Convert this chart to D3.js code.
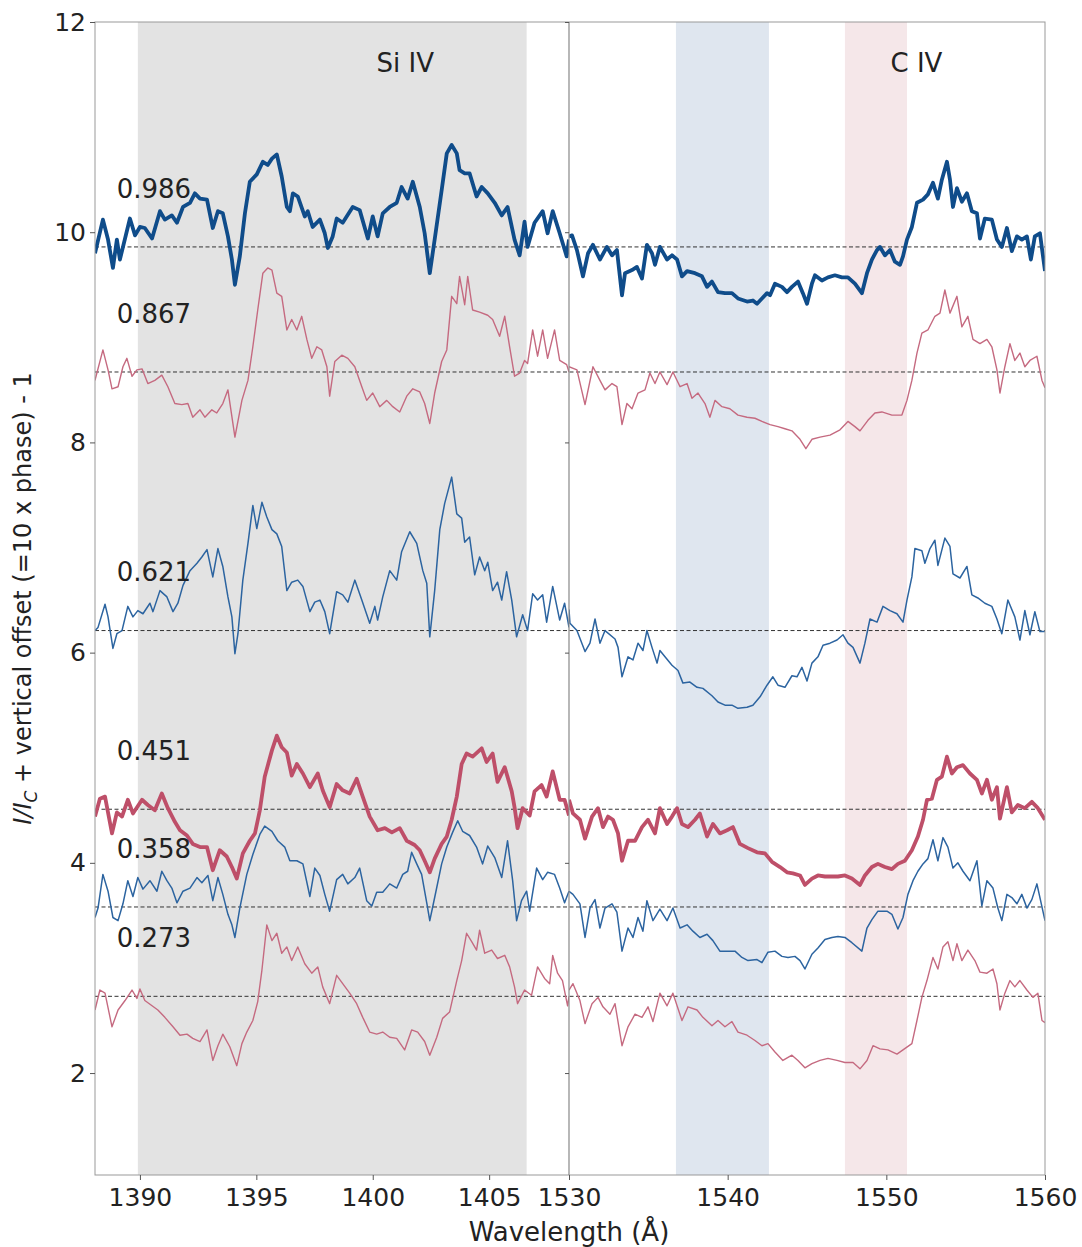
<!DOCTYPE html>
<html>
<head>
<meta charset="utf-8">
<title></title>
<script src="https://d3js.org/d3.v7.min.js"></script>
<style>
    body { margin: 0; background: #fff; }
    text { font-family: "DejaVu Sans", sans-serif; }
</style>
</head>
<body>
<div id="my_dataviz"></div>
<script>
// phases (vertical offset = 10 x phase)
var phases = [0.986, 0.867, 0.621, 0.451, 0.358, 0.273];

// Si IV region spectra: [wavelength, I/Ic]
var si986 = [[1388.07,0.94],[1388.41,1.26],[1388.63,1.07],[1388.84,0.80],[1389.01,1.07],[1389.14,0.88],[1389.57,1.27],[1389.79,1.11],[1390.00,1.19],[1390.21,1.18],[1390.52,1.08],[1390.86,1.34],[1391.07,1.26],[1391.37,1.30],[1391.59,1.23],[1391.85,1.38],[1392.15,1.42],[1392.36,1.51],[1392.58,1.46],[1392.88,1.45],[1393.13,1.18],[1393.35,1.34],[1393.56,1.32],[1393.78,1.10],[1393.95,0.88],[1394.08,0.64],[1394.29,0.91],[1394.51,1.32],[1394.72,1.62],[1395.02,1.69],[1395.28,1.81],[1395.49,1.78],[1395.67,1.84],[1395.88,1.88],[1396.09,1.67],[1396.31,1.38],[1396.44,1.34],[1396.57,1.51],[1396.78,1.48],[1397.08,1.29],[1397.21,1.34],[1397.42,1.19],[1397.73,1.26],[1397.94,1.13],[1398.07,0.99],[1398.28,1.10],[1398.45,1.27],[1398.71,1.23],[1399.14,1.38],[1399.44,1.35],[1399.79,1.08],[1400.00,1.29],[1400.21,1.10],[1400.43,1.32],[1400.73,1.38],[1401.03,1.42],[1401.24,1.57],[1401.50,1.46],[1401.72,1.62],[1402.02,1.38],[1402.23,1.13],[1402.45,0.75],[1402.66,1.07],[1402.96,1.54],[1403.18,1.89],[1403.39,1.97],[1403.61,1.89],[1403.73,1.73],[1403.95,1.70],[1404.16,1.70],[1404.46,1.48],[1404.68,1.57],[1404.94,1.51],[1405.24,1.42],[1405.54,1.30],[1405.79,1.38],[1406.09,1.07],[1406.31,0.92],[1406.52,1.24],[1406.65,1.00],[1406.95,1.23],[1407.30,1.34],[1407.51,1.13],[1407.73,1.34],[1408.03,1.13],[1408.33,0.91],[1408.43,1.07]];
var si867 = [[1388.07,0.92],[1388.41,1.21],[1388.63,1.02],[1388.80,0.84],[1389.06,0.86],[1389.27,1.05],[1389.44,1.13],[1389.66,0.96],[1389.87,1.02],[1390.09,1.03],[1390.34,0.89],[1390.64,0.92],[1390.94,0.97],[1391.20,0.86],[1391.50,0.70],[1391.80,0.69],[1392.06,0.70],[1392.27,0.57],[1392.58,0.64],[1392.79,0.57],[1393.09,0.64],[1393.30,0.61],[1393.56,0.70],[1393.78,0.83],[1394.08,0.38],[1394.38,0.73],[1394.64,0.92],[1394.85,1.24],[1395.06,1.59],[1395.28,1.94],[1395.49,1.99],[1395.67,1.97],[1395.88,1.75],[1396.09,1.72],[1396.31,1.40],[1396.52,1.50],[1396.74,1.40],[1396.95,1.53],[1397.17,1.31],[1397.38,1.13],[1397.60,1.24],[1397.81,1.21],[1398.03,1.05],[1398.15,0.77],[1398.37,1.10],[1398.67,1.16],[1398.93,1.13],[1399.23,1.05],[1399.53,0.86],[1399.74,0.73],[1400.00,0.80],[1400.30,0.67],[1400.60,0.73],[1400.86,0.67],[1401.16,0.62],[1401.46,0.77],[1401.72,0.84],[1402.02,0.81],[1402.23,0.70],[1402.45,0.51],[1402.66,0.80],[1402.96,1.10],[1403.18,1.21],[1403.39,1.72],[1403.61,1.65],[1403.73,1.91],[1403.95,1.64],[1404.08,1.91],[1404.29,1.59],[1404.59,1.57],[1404.94,1.54],[1405.15,1.50],[1405.45,1.34],[1405.67,1.53],[1405.88,1.24],[1406.09,0.96],[1406.31,0.99],[1406.52,1.11],[1406.65,1.08],[1406.87,1.40],[1407.08,1.15],[1407.30,1.40],[1407.51,1.13],[1407.81,1.40],[1408.03,1.11],[1408.33,1.07],[1408.43,1.00]];
var si621 = [[1388.07,1.00],[1388.20,1.03],[1388.50,1.25],[1388.63,1.13],[1388.84,0.83],[1389.01,0.97],[1389.23,1.00],[1389.48,1.23],[1389.70,1.13],[1389.91,1.19],[1390.13,1.16],[1390.43,1.26],[1390.56,1.18],[1390.86,1.38],[1391.16,1.32],[1391.42,1.18],[1391.63,1.26],[1391.85,1.43],[1392.15,1.57],[1392.45,1.64],[1392.66,1.70],[1392.88,1.77],[1393.13,1.51],[1393.35,1.78],[1393.56,1.61],[1393.78,1.32],[1393.95,1.13],[1394.08,0.78],[1394.21,0.97],[1394.42,1.48],[1394.64,1.83],[1394.85,2.19],[1395.02,1.97],[1395.24,2.22],[1395.45,2.08],[1395.67,1.96],[1395.88,1.92],[1396.09,1.80],[1396.31,1.38],[1396.52,1.46],[1396.78,1.48],[1397.00,1.42],[1397.30,1.18],[1397.51,1.27],[1397.73,1.29],[1397.94,1.18],[1398.15,0.97],[1398.45,1.37],[1398.71,1.34],[1398.93,1.27],[1399.23,1.48],[1399.53,1.29],[1399.87,1.07],[1400.09,1.23],[1400.21,1.10],[1400.43,1.32],[1400.73,1.57],[1401.03,1.48],[1401.24,1.75],[1401.59,1.94],[1401.89,1.83],[1402.15,1.57],[1402.32,1.45],[1402.45,0.94],[1402.66,1.38],[1402.88,1.96],[1403.09,2.21],[1403.39,2.46],[1403.61,2.11],[1403.82,2.07],[1403.95,1.84],[1404.16,1.89],[1404.38,1.53],[1404.59,1.70],[1404.81,1.57],[1404.94,1.65],[1405.15,1.38],[1405.36,1.46],[1405.54,1.29],[1405.75,1.56],[1405.97,1.29],[1406.18,0.94],[1406.44,1.15],[1406.65,1.00],[1406.87,1.35],[1407.08,1.29],[1407.30,1.34],[1407.47,1.08],[1407.73,1.42],[1408.03,1.10],[1408.24,1.26],[1408.43,1.03]];
var si451 = [[1388.07,0.93],[1388.28,1.10],[1388.50,1.12],[1388.80,0.77],[1389.01,0.97],[1389.23,0.93],[1389.48,1.09],[1389.70,0.96],[1390.09,1.09],[1390.34,1.04],[1390.64,0.99],[1390.94,1.15],[1391.20,1.01],[1391.50,0.88],[1391.72,0.80],[1392.02,0.75],[1392.27,0.67],[1392.58,0.64],[1392.88,0.64],[1393.13,0.42],[1393.43,0.61],[1393.73,0.55],[1393.95,0.45],[1394.16,0.34],[1394.42,0.58],[1394.72,0.70],[1394.94,0.77],[1395.15,0.99],[1395.36,1.31],[1395.67,1.56],[1395.88,1.70],[1396.09,1.59],[1396.31,1.54],[1396.52,1.32],[1396.74,1.43],[1397.00,1.34],[1397.30,1.21],[1397.64,1.34],[1397.85,1.18],[1398.15,1.02],[1398.45,1.24],[1398.71,1.18],[1399.01,1.15],[1399.31,1.29],[1399.57,1.12],[1399.87,0.93],[1400.21,0.80],[1400.52,0.82],[1400.82,0.78],[1401.16,0.82],[1401.46,0.70],[1401.80,0.66],[1402.02,0.61],[1402.23,0.51],[1402.45,0.40],[1402.66,0.53],[1402.96,0.67],[1403.18,0.74],[1403.39,0.90],[1403.61,1.12],[1403.82,1.43],[1404.03,1.53],[1404.29,1.50],[1404.68,1.58],[1404.89,1.45],[1405.15,1.53],[1405.36,1.26],[1405.67,1.40],[1405.97,1.17],[1406.09,1.02],[1406.22,0.82],[1406.44,1.01],[1406.74,0.94],[1406.95,1.17],[1407.25,1.23],[1407.47,1.12],[1407.73,1.36],[1408.03,1.09],[1408.24,1.09],[1408.43,0.94]];
var si358 = [[1388.07,0.90],[1388.20,0.99],[1388.41,1.31],[1388.63,1.15],[1388.84,0.90],[1389.06,0.87],[1389.27,1.03],[1389.48,1.25],[1389.70,1.10],[1389.91,1.28],[1390.13,1.17],[1390.43,1.25],[1390.73,1.15],[1390.94,1.34],[1391.16,1.25],[1391.37,1.18],[1391.59,1.04],[1391.85,1.15],[1392.15,1.18],[1392.45,1.28],[1392.66,1.23],[1392.92,1.30],[1393.13,1.06],[1393.35,1.28],[1393.56,1.12],[1393.78,0.93],[1393.95,0.83],[1394.08,0.71],[1394.29,0.99],[1394.59,1.31],[1394.85,1.50],[1395.15,1.69],[1395.36,1.77],[1395.67,1.72],[1395.92,1.63],[1396.22,1.57],[1396.44,1.44],[1396.74,1.44],[1397.00,1.41],[1397.30,1.10],[1397.51,1.37],[1397.73,1.30],[1397.94,1.12],[1398.15,0.96],[1398.45,1.26],[1398.71,1.31],[1398.93,1.22],[1399.23,1.28],[1399.44,1.37],[1399.74,1.06],[1399.96,1.01],[1400.17,1.14],[1400.43,1.14],[1400.73,1.22],[1401.03,1.18],[1401.29,1.31],[1401.50,1.34],[1401.67,1.52],[1401.89,1.41],[1402.10,1.31],[1402.32,1.04],[1402.45,0.87],[1402.66,1.09],[1402.96,1.41],[1403.18,1.57],[1403.43,1.71],[1403.65,1.82],[1403.86,1.72],[1404.16,1.68],[1404.46,1.57],[1404.72,1.41],[1404.94,1.58],[1405.24,1.47],[1405.54,1.28],[1405.79,1.63],[1406.01,1.25],[1406.18,0.87],[1406.39,1.06],[1406.61,1.15],[1406.74,0.96],[1407.04,1.37],[1407.30,1.26],[1407.51,1.33],[1407.81,1.31],[1408.03,1.18],[1408.24,1.04],[1408.43,1.15]];
var si273 = [[1388.07,0.87],[1388.28,1.06],[1388.50,1.03],[1388.80,0.71],[1389.06,0.87],[1389.36,0.96],[1389.66,1.06],[1389.87,0.98],[1390.00,1.07],[1390.21,0.96],[1390.52,0.91],[1390.77,0.87],[1391.07,0.80],[1391.42,0.71],[1391.72,0.63],[1392.02,0.64],[1392.27,0.60],[1392.58,0.57],[1392.88,0.68],[1393.13,0.39],[1393.35,0.53],[1393.56,0.64],[1393.86,0.52],[1394.16,0.34],[1394.38,0.55],[1394.59,0.66],[1394.85,0.77],[1395.06,0.95],[1395.24,1.25],[1395.45,1.68],[1395.67,1.53],[1395.88,1.60],[1396.09,1.41],[1396.31,1.47],[1396.52,1.34],[1396.78,1.47],[1397.08,1.31],[1397.38,1.22],[1397.64,1.28],[1397.85,1.09],[1398.15,0.93],[1398.45,1.20],[1398.71,1.12],[1399.01,1.03],[1399.31,0.93],[1399.57,0.80],[1399.87,0.66],[1400.17,0.64],[1400.43,0.66],[1400.73,0.61],[1401.03,0.60],[1401.37,0.49],[1401.67,0.68],[1401.93,0.66],[1402.23,0.57],[1402.45,0.44],[1402.75,0.61],[1403.00,0.79],[1403.30,0.85],[1403.61,1.15],[1403.82,1.34],[1404.03,1.60],[1404.25,1.52],[1404.46,1.44],[1404.59,1.63],[1404.81,1.41],[1405.11,1.44],[1405.36,1.36],[1405.67,1.39],[1405.88,1.28],[1406.09,1.09],[1406.22,0.93],[1406.52,1.06],[1406.82,1.01],[1407.08,1.28],[1407.38,1.17],[1407.60,1.12],[1407.73,1.39],[1407.94,1.22],[1408.15,1.15],[1408.37,0.91],[1408.43,1.00]];

// C IV region spectra: [wavelength, I/Ic]
var c986 = [[1530.00,1.10],[1530.19,1.11],[1530.50,0.97],[1530.88,0.72],[1531.20,0.94],[1531.51,1.02],[1531.95,0.88],[1532.39,1.00],[1532.71,0.92],[1533.02,0.97],[1533.34,0.54],[1533.53,0.75],[1533.97,0.78],[1534.28,0.81],[1534.60,0.70],[1534.91,1.02],[1535.23,0.94],[1535.42,0.83],[1535.73,1.00],[1536.18,0.88],[1536.49,0.92],[1536.81,0.88],[1537.12,0.72],[1537.44,0.77],[1537.94,0.75],[1538.38,0.72],[1538.70,0.62],[1539.01,0.67],[1539.39,0.57],[1539.83,0.56],[1540.27,0.56],[1540.65,0.51],[1541.22,0.48],[1541.59,0.49],[1541.85,0.46],[1542.16,0.51],[1542.48,0.56],[1542.67,0.54],[1542.98,0.65],[1543.42,0.62],[1543.74,0.57],[1544.05,0.62],[1544.43,0.67],[1544.74,0.56],[1545.00,0.46],[1545.31,0.65],[1545.50,0.73],[1545.94,0.68],[1546.32,0.71],[1546.76,0.73],[1547.20,0.71],[1547.58,0.71],[1548.02,0.65],[1548.46,0.56],[1548.78,0.75],[1549.09,0.88],[1549.41,0.97],[1549.60,1.00],[1549.91,0.92],[1550.23,0.97],[1550.54,0.86],[1550.86,0.83],[1551.05,0.91],[1551.30,1.07],[1551.61,1.19],[1551.93,1.42],[1552.31,1.45],[1552.62,1.50],[1552.94,1.61],[1553.25,1.46],[1553.50,1.64],[1553.82,1.81],[1554.01,1.64],[1554.20,1.38],[1554.45,1.56],[1554.76,1.43],[1555.08,1.51],[1555.39,1.34],[1555.71,1.32],[1555.90,1.08],[1556.21,1.27],[1556.65,1.26],[1556.97,1.07],[1557.28,1.00],[1557.60,1.18],[1557.91,0.96],[1558.23,1.10],[1558.54,1.07],[1558.86,1.10],[1559.11,0.88],[1559.36,1.10],[1559.68,1.13],[1560.00,0.77]];
var c867 = [[1530.00,1.05],[1530.50,1.02],[1531.01,0.69],[1531.51,1.05],[1531.95,0.92],[1532.27,0.83],[1532.71,0.89],[1533.02,0.86],[1533.34,0.50],[1533.65,0.70],[1533.97,0.65],[1534.35,0.80],[1534.79,0.83],[1535.10,0.99],[1535.42,0.89],[1535.73,1.00],[1536.18,0.88],[1536.55,1.00],[1537.00,0.86],[1537.44,0.89],[1537.75,0.75],[1538.13,0.80],[1538.57,0.70],[1538.88,0.57],[1539.20,0.73],[1539.64,0.67],[1540.14,0.65],[1540.65,0.59],[1541.22,0.57],[1541.72,0.56],[1542.16,0.53],[1542.67,0.50],[1543.17,0.48],[1543.61,0.46],[1544.05,0.44],[1544.56,0.36],[1544.93,0.27],[1545.31,0.36],[1545.82,0.38],[1546.45,0.40],[1547.08,0.45],[1547.58,0.53],[1548.02,0.48],[1548.34,0.44],[1548.84,0.54],[1549.28,0.61],[1549.72,0.62],[1550.35,0.59],[1550.98,0.59],[1551.30,0.73],[1551.61,0.92],[1551.93,1.18],[1552.24,1.37],[1552.62,1.40],[1553.06,1.53],[1553.38,1.56],[1553.69,1.78],[1554.01,1.56],[1554.45,1.72],[1554.76,1.43],[1555.14,1.53],[1555.46,1.31],[1555.90,1.27],[1556.34,1.31],[1556.65,1.24],[1556.97,1.02],[1557.16,0.80],[1557.47,1.05],[1557.79,1.27],[1558.10,1.11],[1558.42,1.18],[1558.73,1.05],[1559.05,1.11],[1559.49,1.15],[1559.81,0.92],[1560.00,0.85]];
var c621 = [[1530.00,1.20],[1530.06,1.07],[1530.50,1.00],[1531.01,0.80],[1531.32,0.88],[1531.64,1.11],[1531.95,0.88],[1532.27,1.00],[1532.90,0.92],[1533.09,0.84],[1533.34,0.56],[1533.72,0.75],[1534.03,0.72],[1534.35,0.88],[1534.66,0.81],[1534.91,1.00],[1535.23,0.84],[1535.55,0.69],[1535.73,0.81],[1536.05,0.75],[1536.49,0.67],[1536.87,0.62],[1537.18,0.50],[1537.62,0.51],[1538.07,0.46],[1538.44,0.45],[1539.01,0.38],[1539.39,0.32],[1539.83,0.29],[1540.27,0.29],[1540.65,0.26],[1541.22,0.27],[1541.59,0.29],[1542.04,0.37],[1542.48,0.48],[1542.85,0.56],[1543.17,0.48],[1543.61,0.46],[1544.05,0.57],[1544.37,0.56],[1544.68,0.65],[1545.00,0.52],[1545.31,0.69],[1545.69,0.75],[1546.01,0.86],[1546.45,0.88],[1546.89,0.91],[1547.27,0.96],[1547.58,0.88],[1547.90,0.84],[1548.34,0.69],[1548.65,0.88],[1548.97,1.11],[1549.41,1.08],[1549.79,1.23],[1550.23,1.19],[1550.67,1.16],[1551.05,1.08],[1551.30,1.29],[1551.61,1.51],[1551.80,1.78],[1552.24,1.76],[1552.43,1.64],[1552.75,1.78],[1553.06,1.86],[1553.25,1.62],[1553.69,1.88],[1554.01,1.80],[1554.20,1.54],[1554.64,1.50],[1555.08,1.61],[1555.39,1.34],[1555.77,1.31],[1556.21,1.26],[1556.65,1.23],[1556.97,1.11],[1557.28,0.97],[1557.66,1.29],[1558.10,1.13],[1558.42,0.91],[1558.73,1.19],[1559.05,0.96],[1559.36,1.18],[1559.68,0.99],[1560.00,0.99]];
var c451 = [[1530.00,1.09],[1530.25,0.96],[1530.69,0.90],[1531.01,0.72],[1531.45,0.93],[1531.83,1.01],[1532.14,0.83],[1532.46,0.93],[1532.77,0.90],[1533.09,0.77],[1533.34,0.51],[1533.72,0.70],[1534.16,0.70],[1534.60,0.83],[1534.98,0.90],[1535.42,0.77],[1535.73,1.01],[1536.18,0.86],[1536.49,0.93],[1536.81,1.01],[1537.12,0.86],[1537.50,0.83],[1537.94,0.90],[1538.25,0.96],[1538.70,0.74],[1539.07,0.86],[1539.51,0.77],[1539.96,0.80],[1540.33,0.83],[1540.77,0.67],[1541.28,0.63],[1541.85,0.59],[1542.35,0.58],[1542.79,0.50],[1543.30,0.45],[1543.74,0.40],[1544.11,0.39],[1544.56,0.37],[1544.87,0.28],[1545.31,0.34],[1545.69,0.37],[1546.13,0.36],[1546.57,0.36],[1546.95,0.36],[1547.39,0.37],[1547.83,0.34],[1548.34,0.28],[1548.65,0.37],[1549.09,0.45],[1549.47,0.48],[1549.91,0.45],[1550.35,0.43],[1550.73,0.48],[1551.17,0.51],[1551.61,0.61],[1551.99,0.74],[1552.31,0.90],[1552.56,1.09],[1552.87,1.10],[1553.19,1.28],[1553.50,1.31],[1553.82,1.50],[1554.13,1.34],[1554.45,1.40],[1554.83,1.42],[1555.27,1.34],[1555.71,1.28],[1556.02,1.15],[1556.34,1.28],[1556.65,1.09],[1556.97,1.21],[1557.16,0.91],[1557.60,1.21],[1557.91,0.97],[1558.29,1.04],[1558.73,1.01],[1559.17,1.07],[1559.55,1.01],[1560.00,0.90]];
var c358 = [[1530.00,1.15],[1530.25,1.12],[1530.69,1.03],[1531.01,0.71],[1531.32,0.99],[1531.64,1.07],[1531.95,0.80],[1532.27,0.99],[1532.71,1.03],[1533.02,0.95],[1533.34,0.58],[1533.72,0.80],[1534.03,0.71],[1534.35,0.90],[1534.66,0.77],[1534.91,1.06],[1535.29,0.87],[1535.73,0.98],[1536.18,0.87],[1536.55,0.99],[1537.00,0.80],[1537.44,0.83],[1537.81,0.77],[1538.25,0.71],[1538.70,0.74],[1539.07,0.68],[1539.51,0.58],[1540.02,0.58],[1540.46,0.58],[1540.90,0.52],[1541.28,0.49],[1541.85,0.50],[1542.16,0.47],[1542.54,0.57],[1542.98,0.58],[1543.42,0.53],[1543.80,0.52],[1544.24,0.53],[1544.56,0.49],[1544.87,0.41],[1545.31,0.55],[1545.69,0.61],[1546.13,0.69],[1546.57,0.71],[1546.95,0.72],[1547.39,0.71],[1547.83,0.66],[1548.46,0.58],[1548.78,0.80],[1549.09,0.88],[1549.47,0.96],[1550.04,0.96],[1550.35,0.93],[1550.73,0.79],[1551.05,0.90],[1551.36,1.12],[1551.68,1.25],[1551.99,1.34],[1552.31,1.41],[1552.62,1.46],[1552.94,1.64],[1553.25,1.44],[1553.57,1.66],[1553.88,1.57],[1554.20,1.37],[1554.51,1.42],[1554.83,1.34],[1555.27,1.25],[1555.71,1.44],[1556.02,1.01],[1556.34,1.25],[1556.72,1.18],[1557.03,0.99],[1557.28,0.87],[1557.60,1.12],[1557.91,1.09],[1558.23,1.03],[1558.54,1.12],[1558.86,0.99],[1559.17,1.07],[1559.49,1.22],[1560.00,0.87]];
var c273 = [[1530.00,1.06],[1530.25,1.12],[1530.69,0.96],[1531.01,0.74],[1531.45,0.93],[1531.83,0.99],[1532.14,0.90],[1532.58,0.83],[1532.90,0.93],[1533.34,0.53],[1533.72,0.71],[1534.16,0.83],[1534.60,0.80],[1534.98,0.90],[1535.29,0.76],[1535.73,1.03],[1536.18,0.91],[1536.55,1.03],[1537.12,0.77],[1537.50,0.90],[1538.07,0.87],[1538.44,0.80],[1539.01,0.72],[1539.39,0.77],[1539.83,0.71],[1540.27,0.76],[1540.65,0.66],[1541.22,0.63],[1541.72,0.58],[1542.16,0.53],[1542.54,0.55],[1542.98,0.47],[1543.48,0.39],[1544.05,0.44],[1544.43,0.39],[1544.87,0.32],[1545.31,0.36],[1545.82,0.39],[1546.32,0.41],[1546.89,0.39],[1547.39,0.37],[1547.90,0.37],[1548.34,0.31],[1548.78,0.39],[1549.16,0.53],[1549.60,0.50],[1550.10,0.49],[1550.67,0.45],[1551.05,0.49],[1551.61,0.55],[1551.93,0.77],[1552.24,0.99],[1552.56,1.15],[1552.94,1.37],[1553.25,1.26],[1553.57,1.47],[1553.88,1.52],[1554.20,1.34],[1554.45,1.50],[1554.76,1.34],[1555.14,1.44],[1555.58,1.34],[1555.90,1.23],[1556.34,1.22],[1556.72,1.26],[1556.97,1.12],[1557.16,0.87],[1557.47,1.03],[1557.79,1.15],[1558.10,1.09],[1558.42,1.15],[1558.86,1.06],[1559.24,0.99],[1559.55,1.03],[1559.81,0.77],[1560.00,0.75]];

// shaded wavelength bands
var siBand = [1389.91, 1406.61];
var cBands = [[1536.74, 1542.60, "#dfe6ef"], [1547.39, 1551.30, "#f5e7e9"]];

// tick labels
var siTicks = [1390, 1395, 1400, 1405];
var cTicks = [1530, 1540, 1550, 1560];
var yTicks = [2, 4, 6, 8, 10, 12];

var siSpectra = [si986, si867, si621, si451, si358, si273];
var cSpectra = [c986, c867, c621, c451, c358, c273];

// line styles by phase
var lineColor = ["#0f4c8a", "#c56a80", "#2c64a0", "#be4f69", "#2c64a0", "#c56a80"];
var lineWidth = [3.8, 1.4, 1.5, 3.8, 1.5, 1.4];

// set the dimensions and margins of the graph
var margin = { top: 22, right: 37, bottom: 72, left: 95 };
var width = 1082 - margin.left - margin.right;
var height = 1247 - margin.top - margin.bottom;
var splitX = 474;

var svg = d3.select("#my_dataviz")
    .append("svg")
    .attr("width", 1082)
    .attr("height", 1247)
    .style("background", "#fff")
    .append("g")
    .attr("transform", "translate(" + margin.left + "," + margin.top + ")");

// scales: broken x axis, two panels
var xSi = d3.scaleLinear().domain([1388.07, 1408.43]).range([0, splitX]);
var xC = d3.scaleLinear().domain([1530, 1560]).range([splitX, width]);
var y = d3.scaleLinear().domain([1.03, 12]).range([height, 0]);

// clip paths
var defs = svg.append("defs");
defs.append("clipPath").attr("id", "clipSi")
    .append("rect").attr("x", 0).attr("y", 0).attr("width", splitX).attr("height", height);
defs.append("clipPath").attr("id", "clipC")
    .append("rect").attr("x", splitX).attr("y", 0).attr("width", width - splitX).attr("height", height);

// shaded bands
svg.append("rect")
    .attr("x", xSi(siBand[0]))
    .attr("y", 0)
    .attr("width", xSi(siBand[1]) - xSi(siBand[0]))
    .attr("height", height)
    .attr("fill", "#e3e3e3");

svg.selectAll(".cband")
    .data(cBands)
    .enter()
    .append("rect")
    .attr("x", function(d) { return xC(d[0]); })
    .attr("y", 0)
    .attr("width", function(d) { return xC(d[1]) - xC(d[0]); })
    .attr("height", height)
    .attr("fill", function(d) { return d[2]; });

// dashed continuum level for each phase
svg.selectAll(".base")
    .data(phases)
    .enter()
    .append("line")
    .attr("x1", 0)
    .attr("x2", width)
    .attr("y1", function(d) { return y(10 * d); })
    .attr("y2", function(d) { return y(10 * d); })
    .attr("stroke", "#333")
    .attr("stroke-width", 1)
    .attr("stroke-dasharray", "4,2.5");

// spectra
function drawPanel(spectra, xs, clip) {
    var g = svg.append("g").attr("clip-path", "url(#" + clip + ")");
    spectra.forEach(function(data, i) {
        var off = 10 * phases[i] - 1;
        var line = d3.line()
            .x(function(d) { return xs(d[0]); })
            .y(function(d) { return y(d[1] + off); });
        g.append("path")
            .datum(data)
            .attr("fill", "none")
            .attr("stroke", lineColor[i])
            .attr("stroke-width", lineWidth[i])
            .attr("stroke-linejoin", "round")
            .attr("d", line);
    });
}
drawPanel(siSpectra, xSi, "clipSi");
drawPanel(cSpectra, xC, "clipC");

// phase labels
svg.selectAll(".plabel")
    .data(phases)
    .enter()
    .append("text")
    .attr("x", xSi(1389.0))
    .attr("y", function(d) { return y(10 * d + 0.54); })
    .attr("dominant-baseline", "middle")
    .attr("font-size", 26)
    .attr("fill", "#222")
    .text(function(d) { return d.toFixed(3); });

// ion labels
svg.append("text")
    .attr("x", xSi(1401.4)).attr("y", y(11.6))
    .attr("text-anchor", "middle").attr("dominant-baseline", "middle")
    .attr("font-size", 26).attr("fill", "#222")
    .text("Si IV");
svg.append("text")
    .attr("x", xC(1551.9)).attr("y", y(11.6))
    .attr("text-anchor", "middle").attr("dominant-baseline", "middle")
    .attr("font-size", 26).attr("fill", "#222")
    .text("C IV");

// frame and panel split
svg.append("rect")
    .attr("x", 0).attr("y", 0).attr("width", width).attr("height", height)
    .attr("fill", "none").attr("stroke", "#999").attr("stroke-width", 1);
svg.append("line")
    .attr("x1", splitX).attr("x2", splitX).attr("y1", 0).attr("y2", height)
    .attr("stroke", "#888").attr("stroke-width", 1.2);

// axes
function styleAxis(g) {
    g.select(".domain").remove();
    g.selectAll(".tick line").attr("stroke", "#555");
    g.selectAll(".tick text").attr("font-size", 25).attr("fill", "#222")
        .attr("font-family", "DejaVu Sans, sans-serif");
}

svg.append("g")
    .attr("transform", "translate(0," + height + ")")
    .call(d3.axisBottom(xSi).tickValues(siTicks).tickFormat(d3.format("d")).tickSize(5).tickPadding(8))
    .call(styleAxis);
svg.append("g")
    .attr("transform", "translate(0," + height + ")")
    .call(d3.axisBottom(xC).tickValues(cTicks).tickFormat(d3.format("d")).tickSize(5).tickPadding(8))
    .call(styleAxis);

svg.append("g")
    .call(d3.axisLeft(y).tickValues(yTicks).tickSize(5).tickPadding(4))
    .call(styleAxis);
svg.append("g")
    .attr("transform", "translate(" + splitX + ",0)")
    .call(d3.axisLeft(y).tickValues(yTicks).tickSize(4).tickFormat(""))
    .call(styleAxis);

// axis titles
svg.append("text")
    .attr("x", splitX)
    .attr("y", height + 66)
    .attr("text-anchor", "middle")
    .attr("font-size", 26)
    .attr("fill", "#222")
    .text("Wavelength (Å)");

var yl = svg.append("text")
    .attr("transform", "translate(" + (-64) + "," + (height / 2) + ") rotate(-90)")
    .attr("text-anchor", "middle")
    .attr("font-size", 24)
    .attr("fill", "#222");
yl.append("tspan").attr("font-style", "italic").text("I/I");
yl.append("tspan").attr("font-style", "italic").attr("font-size", 17).attr("dy", 6).text("C");
yl.append("tspan").attr("dy", -6).text(" + vertical offset (=10 x phase) - 1");
</script>
</body>
</html>
